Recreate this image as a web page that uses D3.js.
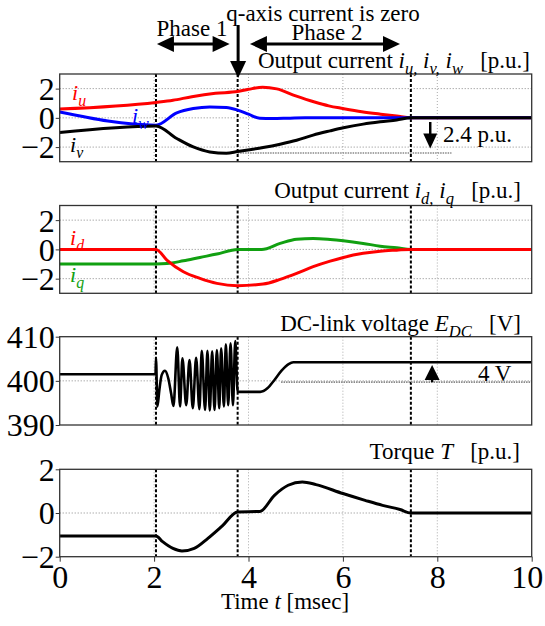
<!DOCTYPE html>
<html>
<head>
<meta charset="utf-8">
<script src="https://cdn.jsdelivr.net/npm/d3@7"></script>
<style>
  body { margin: 0; background: #fff; }
  svg text { font-family: "Liberation Serif", "Times New Roman", "DejaVu Serif", serif; white-space: pre; }
</style>
</head>
<body>
<svg id="chart" width="545" height="626"></svg>
<script>
// ---- data (time in msec) ----
var timeTicks = [0, 2, 4, 6, 8, 10];
var phaseTimes = [2.04, 3.77, 7.44];

// output currents iu, iv, iw [p.u.]
var iuData = [[0, 0.6], [2.04, 1.05], [2.4, 1.2], [2.8, 1.45], [3.3, 1.68], [3.77, 1.8], [4.0, 1.95], [4.3, 2.1],
  [4.6, 1.98], [5.0, 1.5], [5.4, 1.08], [5.7, 0.82], [6.0, 0.64], [6.4, 0.42], [6.8, 0.25], [7.14, 0.12], [7.44, 0], [10, 0]];
var ivData = [[0, -1.0], [2.04, -0.55], [2.48, -1.41], [2.83, -1.99], [3.18, -2.33], [3.53, -2.42], [3.77, -2.3],
  [4.31, -2.03], [4.67, -1.8], [5.02, -1.53], [5.37, -1.18], [5.73, -0.89], [6.01, -0.68], [6.43, -0.43], [6.79, -0.27],
  [7.14, -0.14], [7.44, 0], [10, 0]];
var iwData = [[0, 0.4], [2.04, -0.5], [2.48, 0.34], [2.83, 0.64], [3.18, 0.75], [3.53, 0.71], [3.77, 0.53],
  [4.0, 0.25], [4.24, -0.03], [4.5, -0.05], [4.88, -0.02], [5.2, 0], [10, 0]];

// output currents id, iq [p.u.]
var idData = [[0, 0], [2.04, 0], [2.27, -0.73], [2.62, -1.53], [2.97, -1.98], [3.33, -2.32], [3.77, -2.48], [4.31, -2.37],
  [4.67, -2.05], [5.02, -1.64], [5.37, -1.18], [5.73, -0.8], [6.01, -0.55], [6.43, -0.27], [6.79, -0.12], [7.14, -0.05],
  [7.44, 0], [10, 0]];
var iqData = [[0, -1.0], [2.04, -1.0], [2.27, -0.97], [2.62, -0.78], [2.97, -0.55], [3.33, -0.32], [3.77, 0], [4.28, 0],
  [4.67, 0.41], [5.02, 0.7], [5.37, 0.75], [5.73, 0.68], [6.01, 0.59], [6.43, 0.41], [6.79, 0.22], [7.14, 0.11], [7.44, 0], [10, 0]];

// DC-link voltage [V]
var dcData = [[0, 401.5], [2.03, 401.5], [2.04, 405.1], [2.07, 394.2], [2.11, 397.8], [2.16, 401.3], [2.23, 402.3],
  [2.3, 400.6], [2.36, 397.2], [2.41, 394.3], [2.49, 407.6], [2.55, 394.2], [2.6, 405.1], [2.68, 394.5], [2.75, 404.7],
  [2.82, 393.8], [2.89, 405.2], [2.96, 393.6], [3.01, 406.8], [3.08, 393.4], [3.13, 406.8], [3.18, 393.3], [3.23, 406.7],
  [3.28, 393.4], [3.33, 407.0], [3.38, 393.8], [3.42, 407.4], [3.48, 394.2], [3.52, 408.3], [3.57, 394.5], [3.62, 408.5],
  [3.67, 394.5], [3.72, 409.0], [3.77, 397.5], [4.25, 397.5], [4.4, 398.3], [4.55, 400.2], [4.7, 402.3], [4.85, 403.8],
  [4.95, 404.2], [10, 404.2]];

// torque [p.u.]
var torqueData = [[0, -1.05], [2.04, -1.05], [2.18, -1.31], [2.4, -1.62], [2.59, -1.74], [2.85, -1.62], [3.14, -1.16],
  [3.44, -0.6], [3.77, 0.05], [4.24, 0.07], [4.55, 0.81], [4.84, 1.27], [5.14, 1.42], [5.43, 1.3], [6.0, 0.89],
  [6.47, 0.58], [6.84, 0.35], [7.21, 0.16], [7.44, 0], [10, 0]];

var currentTicks = [-2, 0, 2];
var dcTicks = [390, 400, 410];
var torqueTicks = [-2, 0, 2];
var peakCurrent = -2.4;   // dotted reference in top panel
var dcReference = 399.7;  // dotted reference in DC panel

// ---- drawing ----
var svg = d3.select('#chart');
var serif = '"Liberation Serif", "Times New Roman", "DejaVu Serif", serif';

var x = d3.scaleLinear().domain([0, 10]).range([59.7, 531.7]);

var lineGen = function (y) {
  return d3.line()
    .x(function (d) { return x(d[0]); })
    .y(function (d) { return y(d[1]); })
    .curve(d3.curveMonotoneX);
};

// rich text with italic and subscript pieces
var richText = function (g, px, py, parts, size, anchor, color) {
  var t = g.append('text')
    .attr('x', px).attr('y', py)
    .style('font-family', serif)
    .attr('font-size', size)
    .attr('text-anchor', anchor || 'start')
    .attr('fill', color || '#000');
  var shifted = false;
  parts.forEach(function (p) {
    var s = t.append('tspan').text(p.t);
    if (p.it) s.attr('font-style', 'italic');
    if (p.sub && !shifted) { s.attr('dy', size * 0.25); shifted = true; }
    else if (!p.sub && shifted) { s.attr('dy', -size * 0.25); shifted = false; }
    if (p.sub) s.attr('font-size', size * 0.72);
  });
  return t;
};

var arrowHead = function (g, tx, ty, dx, dy, len, half) {
  // tip at (tx,ty), pointing along (dx,dy)
  var bx = tx - dx * len, by = ty - dy * len;
  var nx = -dy, ny = dx;
  g.append('path')
    .attr('d', 'M' + tx + ',' + ty + 'L' + (bx + nx * half) + ',' + (by + ny * half) +
      'L' + (bx - nx * half) + ',' + (by - ny * half) + 'Z')
    .attr('fill', '#000');
};

var drawPanel = function (cfg) {
  var y = d3.scaleLinear().domain(cfg.domain).range([cfg.bottom, cfg.top]);
  var g = svg.append('g');

  // dotted grids
  g.selectAll('.vgrid').data([2, 4, 6, 8]).enter().append('line')
    .attr('x1', function (d) { return x(d); }).attr('x2', function (d) { return x(d); })
    .attr('y1', cfg.top).attr('y2', cfg.bottom)
    .attr('stroke', '#aaa').attr('stroke-width', 1).attr('stroke-dasharray', '1,2');
  g.selectAll('.hgrid').data(cfg.grid).enter().append('line')
    .attr('x1', x(0)).attr('x2', x(10))
    .attr('y1', function (d) { return y(d); }).attr('y2', function (d) { return y(d); })
    .attr('stroke', '#888').attr('stroke-width', 1).attr('stroke-dasharray', '1,2');

  // left axis
  var yAxis = g.append('g').attr('transform', 'translate(' + x(0) + ',0)')
    .call(d3.axisLeft(y).tickValues(cfg.ticks).tickSize(4).tickPadding(1).tickFormat(d3.format('d')));
  yAxis.attr('font-family', null);
  yAxis.select('.domain').remove();
  yAxis.selectAll('line').attr('stroke', '#333');
  yAxis.selectAll('text').style('font-family', serif).attr('font-size', 32).attr('fill', '#000')
    .attr('dy', '0.34em');

  if (cfg.xAxis) {
    var xAxis = g.append('g').attr('transform', 'translate(0,' + cfg.bottom + ')')
      .call(d3.axisBottom(x).tickValues(timeTicks).tickSize(5).tickPadding(1).tickFormat(d3.format('d')));
    xAxis.attr('font-family', null);
    xAxis.select('.domain').remove();
    xAxis.selectAll('line').attr('stroke', '#333');
    xAxis.selectAll('text').style('font-family', serif).attr('font-size', 32).attr('fill', '#000')
      .attr('dy', '0.78em')
      .attr('dx', function (d) { return d === 10 ? -5 : 0; });
  }

  // phase boundaries
  g.selectAll('.phase').data(phaseTimes).enter().append('line')
    .attr('x1', function (d) { return x(d); }).attr('x2', function (d) { return x(d); })
    .attr('y1', cfg.top).attr('y2', cfg.bottom)
    .attr('stroke', '#000').attr('stroke-width', 2).attr('stroke-dasharray', '3,2');

  // reference lines
  (cfg.refs || []).forEach(function (r) {
    g.append('line')
      .attr('x1', x(r.from)).attr('x2', x(r.to))
      .attr('y1', y(r.value)).attr('y2', y(r.value))
      .attr('stroke', '#888').attr('stroke-width', 1.6).attr('stroke-dasharray', '1.5,1');
  });

  // series
  cfg.series.forEach(function (s) {
    g.append('path')
      .attr('d', lineGen(y)(s.data))
      .attr('fill', 'none')
      .attr('stroke', s.color)
      .attr('stroke-width', s.width || 3)
      .attr('stroke-linejoin', 'round');
  });

  // frame
  g.append('rect')
    .attr('x', x(0)).attr('y', cfg.top)
    .attr('width', x(10) - x(0)).attr('height', cfg.bottom - cfg.top)
    .attr('fill', 'none').attr('stroke', '#333').attr('stroke-width', 1.3);

  return { g: g, y: y };
};

var red = '#ff0000', blue = '#0000ff', green = '#11a011';

var p1 = drawPanel({
  top: 74, bottom: 161.7, domain: [-3, 3], ticks: currentTicks, grid: currentTicks,
  refs: [{ value: peakCurrent, from: 3.77, to: 8.3 }],
  series: [{ data: iuData, color: red }, { data: iwData, color: blue }, { data: ivData, color: '#000' }]
});
var p2 = drawPanel({
  top: 205.5, bottom: 293.3, domain: [-3, 3], ticks: currentTicks, grid: currentTicks,
  series: [{ data: iqData, color: green }, { data: idData, color: red }]
});
var p3 = drawPanel({
  top: 336.7, bottom: 425, domain: [390, 410], ticks: dcTicks, grid: [400],
  refs: [{ value: dcReference, from: 4.69, to: 10 }],
  series: [{ data: dcData, color: '#000', width: 2.6 }]
});
var p4 = drawPanel({
  top: 469.3, bottom: 556.7, domain: [-2, 2], ticks: torqueTicks, grid: [0], xAxis: true,
  series: [{ data: torqueData, color: '#000' }]
});

// panel titles
var annot = svg.append('g');
richText(annot, 530, 68, [{ t: 'Output current ' }, { t: 'i', it: true }, { t: 'u,', it: true, sub: true },
  { t: ' i', it: true }, { t: 'v,', it: true, sub: true }, { t: ' i', it: true }, { t: 'w', it: true, sub: true },
  { t: '   [p.u.]' }], 23, 'end');
richText(annot, 521, 198, [{ t: 'Output current ' }, { t: 'i', it: true }, { t: 'd,', it: true, sub: true },
  { t: ' i', it: true }, { t: 'q', it: true, sub: true }, { t: '   [p.u.]' }], 23, 'end');
richText(annot, 521, 331, [{ t: 'DC-link voltage ' }, { t: 'E', it: true }, { t: 'DC', it: true, sub: true },
  { t: '   [V]' }], 23, 'end');
richText(annot, 520, 459, [{ t: 'Torque ' }, { t: 'T', it: true }, { t: '   [p.u.]' }], 23, 'end');

// series labels
richText(annot, 72, 100, [{ t: 'i', it: true }, { t: 'u', it: true, sub: true }], 22, 'start', red);
richText(annot, 132, 123, [{ t: 'i', it: true }, { t: 'w', it: true, sub: true }], 22, 'start', blue);
richText(annot, 70, 152, [{ t: 'i', it: true }, { t: 'v', it: true, sub: true }], 22, 'start', '#000');
richText(annot, 70, 245, [{ t: 'i', it: true }, { t: 'd', it: true, sub: true }], 22, 'start', red);
richText(annot, 70, 282, [{ t: 'i', it: true }, { t: 'q', it: true, sub: true }], 22, 'start', green);

// annotations at the top
richText(annot, 323, 20.5, [{ t: 'q-axis current is zero' }], 23, 'middle');
richText(annot, 192, 36, [{ t: 'Phase 1' }], 23, 'middle');
richText(annot, 327, 40, [{ t: 'Phase 2' }], 23, 'middle');

var drawDouble = function (x1, x2, yy) {
  annot.append('line').attr('x1', x1 + 10).attr('x2', x2 - 10).attr('y1', yy).attr('y2', yy)
    .attr('stroke', '#000').attr('stroke-width', 3);
  arrowHead(annot, x1, yy, -1, 0, 17, 8);
  arrowHead(annot, x2, yy, 1, 0, 17, 8);
};
drawDouble(x(2.06), x(3.6), 44);
drawDouble(x(4.03), x(7.21), 44);

// down arrow to the q-axis zero instant
annot.append('line').attr('x1', x(3.78)).attr('x2', x(3.78)).attr('y1', 25).attr('y2', 65)
  .attr('stroke', '#000').attr('stroke-width', 3);
arrowHead(annot, x(3.78), 78, 0, 1, 17, 8);

// 2.4 p.u. marker
annot.append('line').attr('x1', x(7.85)).attr('x2', x(7.85)).attr('y1', 122).attr('y2', 140)
  .attr('stroke', '#000').attr('stroke-width', 2.5);
arrowHead(annot, x(7.85), p1.y(-2.1), 0, 1, 15, 7);
richText(annot, 443, 142, [{ t: '2.4 p.u.' }], 23, 'start');

// 4 V marker
annot.append('line').attr('x1', x(7.89)).attr('x2', x(7.89)).attr('y1', p3.y(dcReference)).attr('y2', 372)
  .attr('stroke', '#000').attr('stroke-width', 2.5);
arrowHead(annot, x(7.89), 365, 0, -1, 15, 7.5);
richText(annot, 478, 381, [{ t: '4 V' }], 23, 'start');

// x axis title
richText(annot, 285, 609, [{ t: 'Time ' }, { t: 't', it: true }, { t: ' [msec]' }], 23, 'middle');
</script>
</body>
</html>
